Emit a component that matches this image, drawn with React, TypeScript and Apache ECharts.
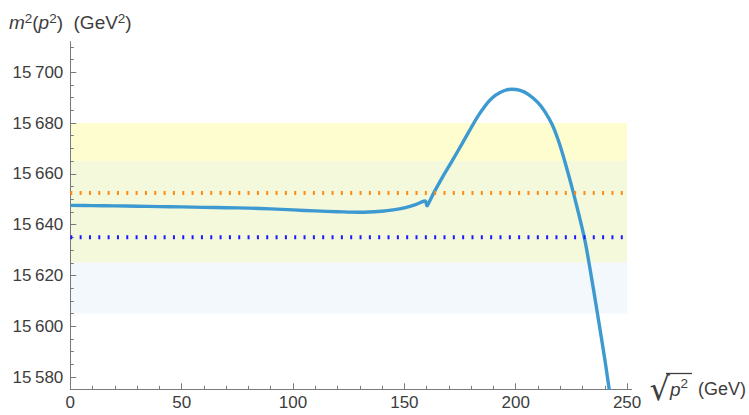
import React, { useEffect, useRef } from "react";
import * as echarts from "echarts";

// ---- data ----
const curveX = [0, 10, 20, 30, 40, 50, 60, 70, 80, 90, 100, 110, 120, 130, 140, 145, 150, 155, 159.3, 160.2, 161.2, 163.2, 167, 171.4, 176, 181.2, 183, 185, 188, 191, 195, 198.3, 202, 205.8, 210, 213.3, 216.3, 219, 221.5, 225.9, 230.7, 232.9, 236.7, 240, 242];
const curveY = [15647.6, 15647.5, 15647.4, 15647.25, 15647.1, 15647.0, 15646.8, 15646.65, 15646.5, 15646.2, 15645.8, 15645.4, 15645.1, 15644.9, 15645.3, 15645.8, 15646.6, 15647.9, 15649.3, 15647.4, 15649.0, 15652.5, 15658.5, 15665, 15672, 15680, 15682.6, 15685.2, 15688.6, 15691, 15692.8, 15693.3, 15692.8, 15691.2, 15688, 15684.2, 15679.5, 15673.5, 15666.5, 15652.5, 15635.3, 15625, 15605, 15587, 15575];

const yellowBand = [15625, 15680];
const blueBand = [15605, 15665];
const orangeLevel = 15652.5;
const blueLevel = 15635;

const xRange = [0, 252];
const yRange = [15575.2, 15712];
const xMajorTicks = [0, 50, 100, 150, 200, 250];
const xMinorTicks = [10, 20, 30, 40, 60, 70, 80, 90, 110, 120, 130, 140, 160, 170, 180, 190, 210, 220, 230, 240];
const yMajorTicks = [15580, 15600, 15620, 15640, 15660, 15680, 15700];
const yMinorTicks = [15585, 15590, 15595, 15605, 15610, 15615, 15625, 15630, 15635, 15645, 15650, 15655, 15665, 15670, 15675, 15685, 15690, 15695, 15705, 15710];
const bandX = [0, 250];

const FONT = "'Liberation Sans', Arial, Helvetica, sans-serif";
const AXIS = "#7a7a7a";
const LABEL = "#3d3d3d";

export default function App() {
  const ref = useRef<HTMLDivElement>(null);
  useEffect(() => {
    if (!ref.current) return;
    const chart = echarts.init(ref.current, undefined, { renderer: "svg" });
    const curve = curveX.map((x, i) => [x, curveY[i]]);
    const ovLo = Math.max(yellowBand[0], blueBand[0]);
    const ovHi = Math.min(yellowBand[1], blueBand[1]);
    const fmt = (v: number) => String(v).replace(/(\d{2})(\d{3})$/, "$1\u2009$2");
    const sup = { fontSize: 13.5, fontFamily: FONT, color: LABEL, verticalAlign: "top" as const, lineHeight: 13 };
    const norm = { fontSize: 19, fontFamily: FONT, color: LABEL, lineHeight: 22 };
    const ital = { ...norm, fontStyle: "italic" as const };
    chart.setOption({
      animation: false,
      backgroundColor: "#ffffff",
      grid: { left: 70.3, right: 749 - 632.3, top: 41.7, bottom: 415 - 389.3, containLabel: false },
      xAxis: [
        {
          type: "value", min: xRange[0], max: xRange[1],
          axisLine: { show: true, lineStyle: { color: AXIS, width: 1 } },
          axisTick: { show: true, inside: true, length: 6, customValues: xMajorTicks, lineStyle: { color: AXIS } },
          axisLabel: { customValues: xMajorTicks, color: LABEL, fontSize: 17, fontFamily: FONT, margin: 5 },
          splitLine: { show: false },
          name: "{sq|√}{p|p}{s|2}{n|  (GeV)}",
          nameLocation: "end",
          nameGap: 18,
          nameTextStyle: {
            fontSize: 18, fontFamily: FONT, color: LABEL,
            rich: {
              sq: { fontSize: 32, fontFamily: "'DejaVu Sans', sans-serif", color: LABEL, lineHeight: 32 },
              p: { ...ital, fontSize: 19 },
              s: { ...sup, verticalAlign: "middle" as const, padding: [0, 0, 12, 0] },
              n: { ...norm, fontSize: 18 },
            },
          },
        },
        {
          type: "value", min: xRange[0], max: xRange[1], position: "bottom",
          axisLine: { show: false },
          axisTick: { show: true, inside: true, length: 3.5, customValues: xMinorTicks, lineStyle: { color: AXIS } },
          axisLabel: { show: false },
          splitLine: { show: false },
        },
      ],
      yAxis: [
        {
          type: "value", min: yRange[0], max: yRange[1],
          axisLine: { show: true, lineStyle: { color: AXIS, width: 1 } },
          axisTick: { show: true, inside: true, length: 6, customValues: yMajorTicks, lineStyle: { color: AXIS } },
          axisLabel: { customValues: yMajorTicks, color: LABEL, fontSize: 17, fontFamily: FONT, margin: 7, formatter: fmt },
          splitLine: { show: false },
          name: "{i|m}{s|2}{n|(}{i|p}{s|2}{n|)  (GeV}{s|2}{n|)}",
          nameLocation: "end",
          nameGap: 8,
          nameTextStyle: { fontSize: 19, fontFamily: FONT, color: LABEL, rich: { i: ital, s: sup, n: norm } },
        },
        {
          type: "value", min: yRange[0], max: yRange[1], position: "left",
          axisLine: { show: false },
          axisTick: { show: true, inside: true, length: 3.5, customValues: yMinorTicks, lineStyle: { color: AXIS } },
          axisLabel: { show: false },
          splitLine: { show: false },
        },
      ],
      series: [
        {
          type: "line",
          data: curve,
          showSymbol: false,
          symbol: "none",
          smooth: 0.35,
          z: 2,
          clip: true,
          lineStyle: { color: "#3d9ad1", width: 3.4, join: "round" },
          markArea: {
            silent: true,
            z: 0,
            data: [
              [{ xAxis: bandX[0], yAxis: ovHi, itemStyle: { color: "#fefdd0" } }, { xAxis: bandX[1], yAxis: yellowBand[1] }],
              [{ xAxis: bandX[0], yAxis: ovLo, itemStyle: { color: "#f5f9dc" } }, { xAxis: bandX[1], yAxis: ovHi }],
              [{ xAxis: bandX[0], yAxis: blueBand[0], itemStyle: { color: "#f3f8fd" } }, { xAxis: bandX[1], yAxis: ovLo }],
            ],
          },
        },
        {
          type: "line",
          data: [[bandX[0], orangeLevel], [bandX[1], orangeLevel]],
          showSymbol: false,
          symbol: "none",
          z: 3,
          lineStyle: { color: "#ff8a14", width: 4, type: [2, 7.33], cap: "butt" },
        },
        {
          type: "line",
          data: [[bandX[0], blueLevel], [bandX[1], blueLevel]],
          showSymbol: false,
          symbol: "none",
          z: 3,
          lineStyle: { color: "#1a1aff", width: 4, type: [2, 7.33], cap: "butt" },
        },
      ],
      graphic: [
        { type: "line", shape: { x1: 666, y1: 373.5, x2: 692, y2: 373.5 }, style: { stroke: LABEL, lineWidth: 1.3 } },
      ],
    });
    return () => chart.dispose();
  }, []);
  return <div ref={ref} style={{ position: "absolute", left: 0, top: 0, width: 749, height: 415 }} />;
}
